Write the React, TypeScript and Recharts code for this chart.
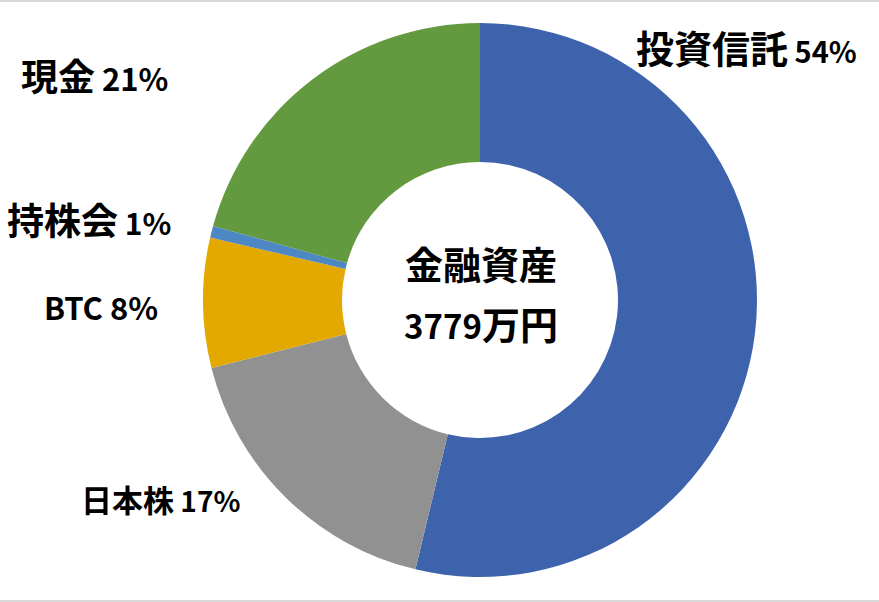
import React from "react";
import { PieChart, Pie, Cell } from "recharts";

// 金融資産の内訳（万円）
const names = ["投資信託", "日本株", "BTC", "持株会", "現金"];
const amounts = [2031, 654, 286, 26, 782];
const colors = ["#3D63AD", "#919191", "#E3A900", "#4D88C4", "#63993F"];
const centerTitle = "金融資産";
const totalLabel = "万円";

const total = amounts.reduce((a, b) => a + b, 0);
const data = names.map((name, i) => ({ name, value: amounts[i] }));

// ラベルの配置（円の中心からのずれ）と文字サイズ
const labelLayout = [
  { dx: 156, dy: -237, jp: 38, num: 29 },
  { dx: -399, dy: 212, jp: 31, num: 28 },
  { dx: -436, dy: 20, jp: 31, num: 31 },
  { dx: -473, dy: -65, jp: 37, num: 30 },
  { dx: -459, dy: -209, jp: 37, num: 31 },
];

const FONT = '"Noto Sans CJK JP", sans-serif';

const CenterText = ({ cx, cy }: { cx: number; cy: number }) => (
  <g fontFamily={FONT} fontWeight="bold" fill="#000">
    <text x={cx + 1} y={cy - 21} textAnchor="middle" fontSize={38}>
      {centerTitle}
    </text>
    <text x={cx + 1} y={cy + 39} textAnchor="middle">
      <tspan fontSize={33}>{total}</tspan>
      <tspan fontSize={38}>{totalLabel}</tspan>
    </text>
  </g>
);

const renderLabel = (props: any) => {
  const { cx, cy, index, name, value } = props;
  const l = labelLayout[index];
  const pct = Math.round((value / total) * 100);
  return (
    <g>
      <text
        x={cx + l.dx}
        y={cy + l.dy}
        textAnchor="start"
        fontFamily={FONT}
        fontWeight="bold"
        fill="#000"
      >
        <tspan fontSize={name === "BTC" ? l.num : l.jp}>{name}</tspan>
        <tspan fontSize={l.num}>{" " + pct + "%"}</tspan>
      </text>
      {index === 0 && <CenterText cx={cx} cy={cy} />}
    </g>
  );
};

export default function App() {
  return (
    <div
      style={{
        position: "fixed",
        left: 0,
        top: 0,
        width: 879,
        height: 602,
        background: "#fff",
        boxSizing: "border-box",
        borderTop: "2px solid #d9d9d9",
        borderBottom: "2px solid #d9d9d9",
      }}
    >
      <PieChart width={879} height={598} margin={{ top: 0, right: 0, bottom: 0, left: 0 }}>
        <Pie
          data={data}
          dataKey="value"
          nameKey="name"
          cx={480}
          cy={298}
          outerRadius={277}
          innerRadius={138}
          startAngle={90}
          endAngle={-270}
          stroke="none"
          label={renderLabel}
          labelLine={false}
          isAnimationActive={false}
        >
          {data.map((d, i) => (
            <Cell key={d.name} fill={colors[i]} />
          ))}
        </Pie>
      </PieChart>
    </div>
  );
}
